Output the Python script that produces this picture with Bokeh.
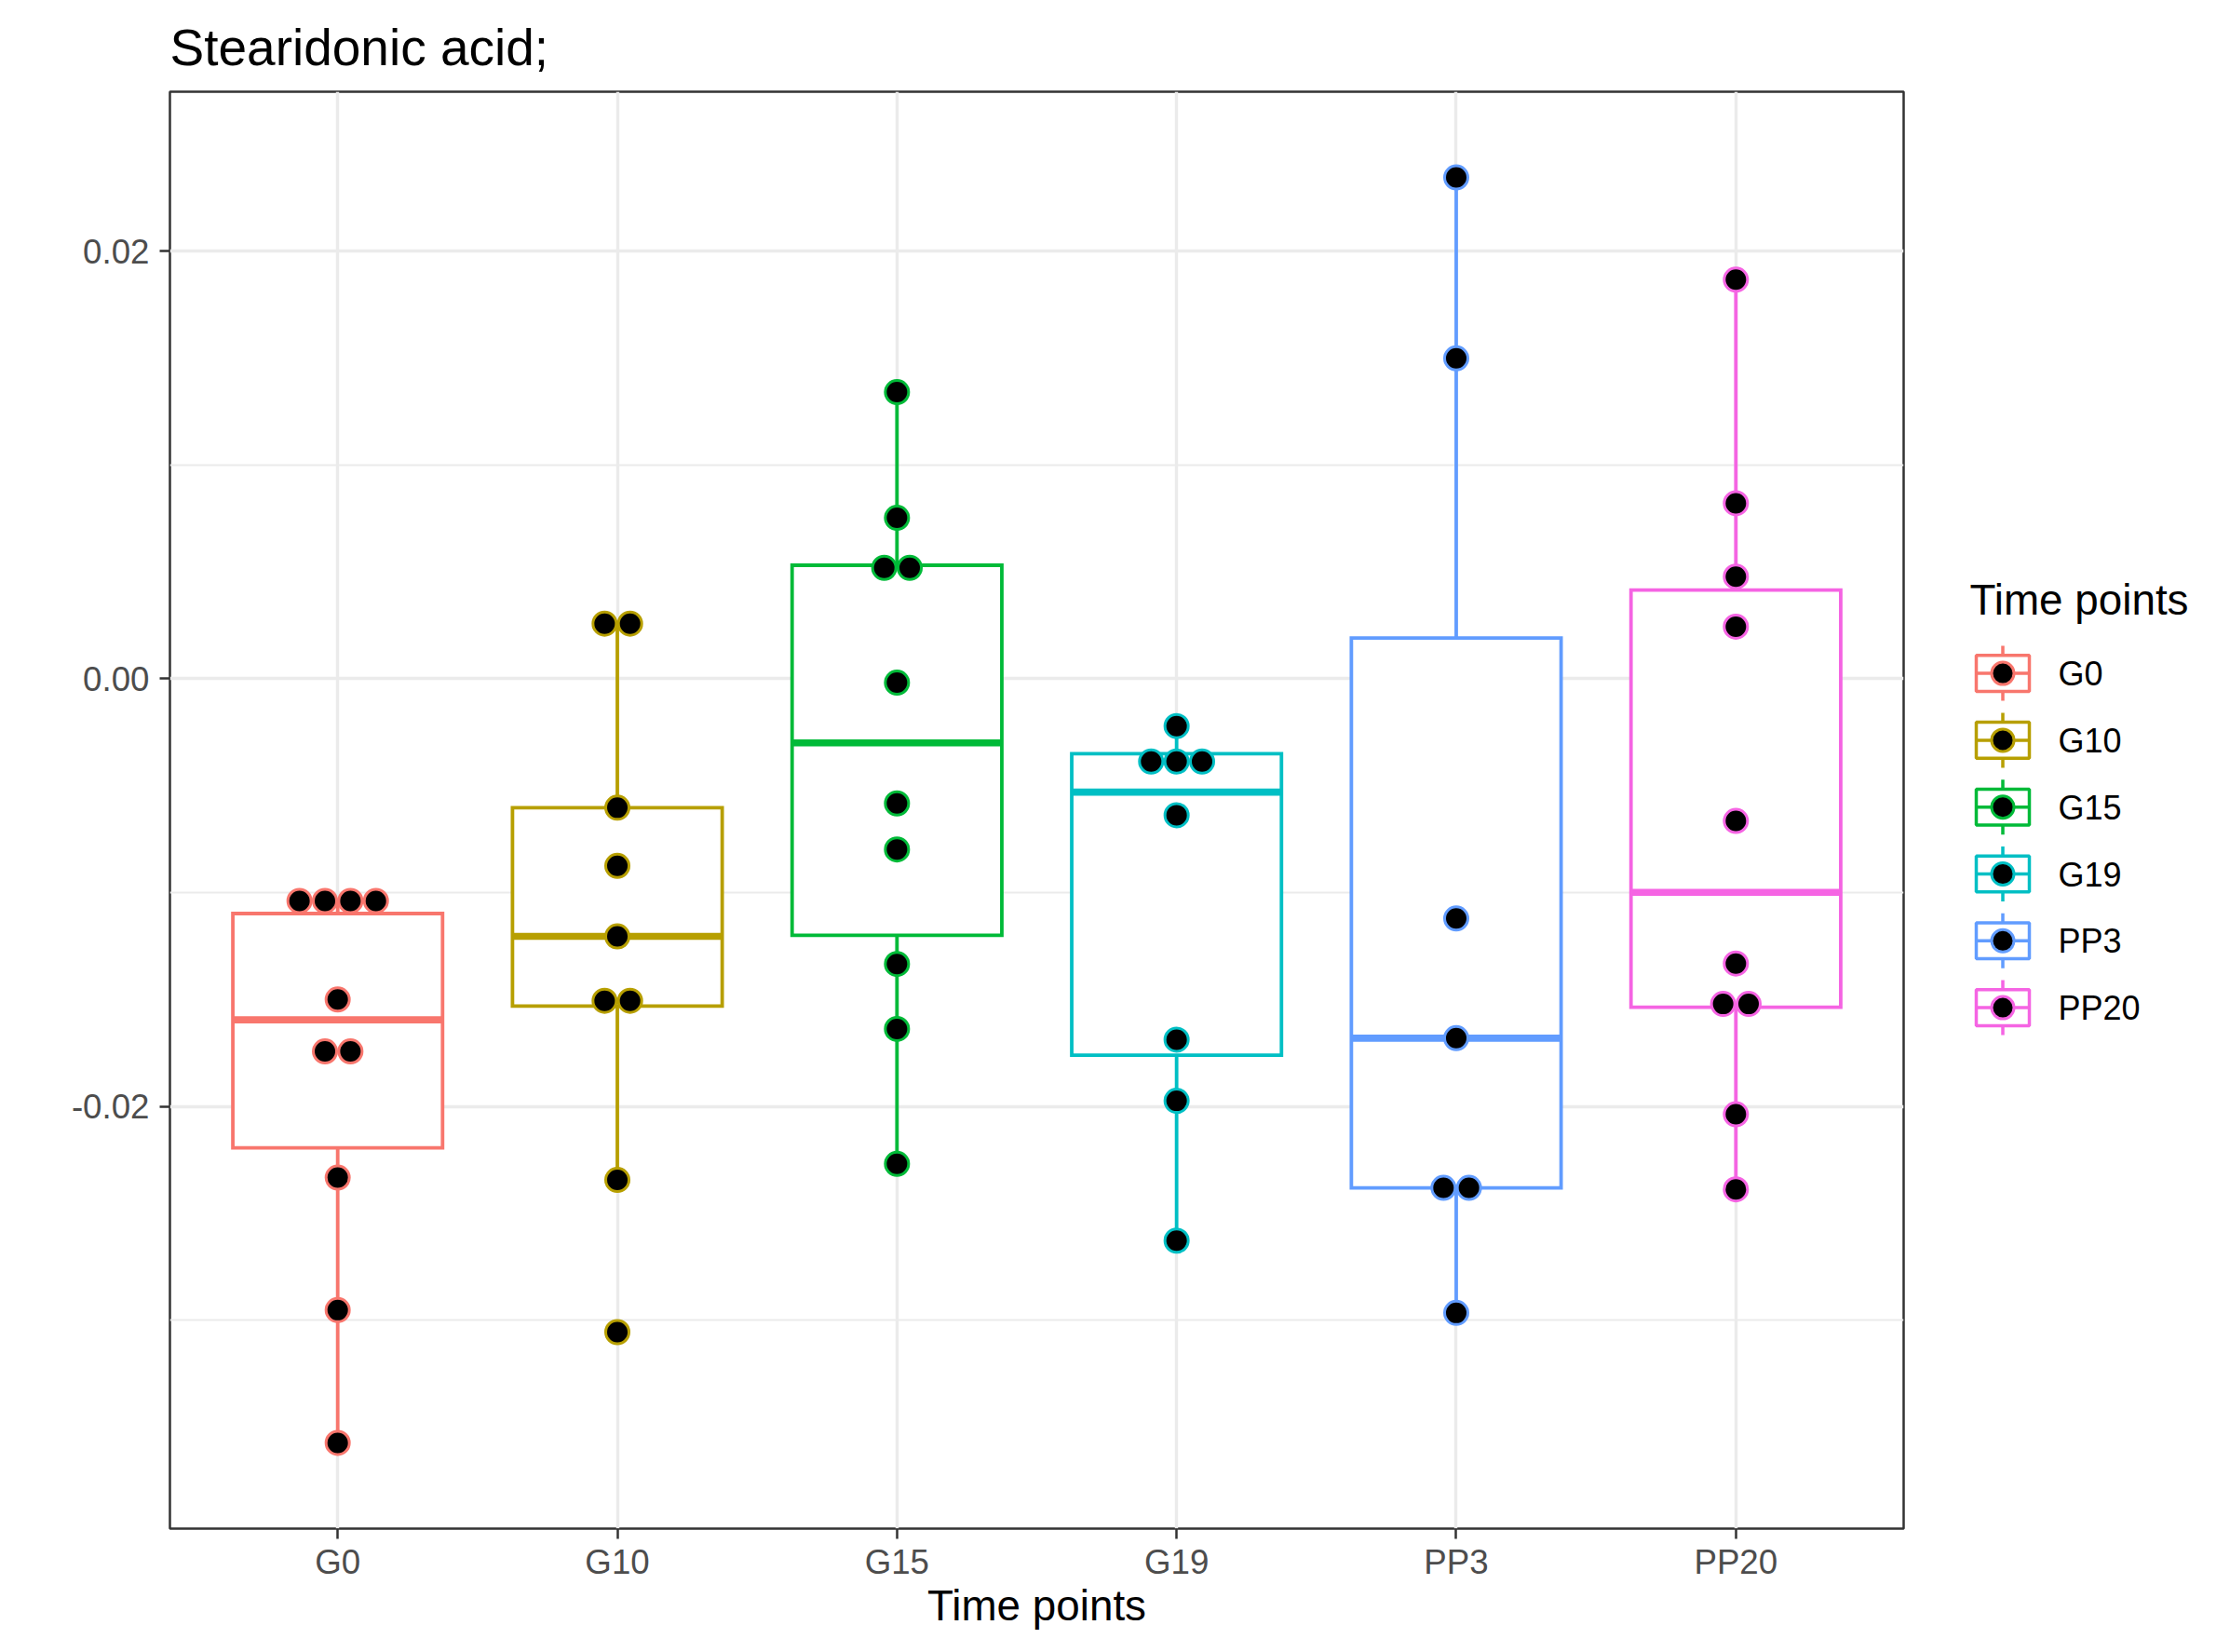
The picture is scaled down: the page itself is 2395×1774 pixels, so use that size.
import numpy as np
from bokeh.plotting import figure
from bokeh.models import Range1d, FixedTicker, PrintfTickFormatter, ColumnDataSource
from bokeh.layouts import row
from bokeh.embed import file_html
from bokeh.resources import INLINE
from bokeh.core.properties import value

# ---------------- data ----------------
categories = ["G0", "G10", "G15", "G19", "PP3", "PP20"]
colors = ["#F8766D", "#B79F00", "#00BA38", "#00BFC4", "#619CFF", "#F564E3"]

lower_whisker = [-0.03574, -0.02344, -0.02269, -0.02628, -0.02966, -0.02388]
q1 = [-0.02194, -0.01531, -0.01200, -0.01761, -0.02381, -0.01536]
median = [-0.01595, -0.01205, -0.00300, -0.00530, -0.01681, -0.00999]
q3 = [-0.01098, -0.00603, 0.00531, -0.00350, 0.00191, 0.00415]
upper_whisker = [-0.01039, 0.00258, 0.01341, -0.00221, 0.02345, 0.01867]

g0_points = [-0.01039, -0.01039, -0.01039, -0.01039, -0.01500, -0.01743, -0.01743, -0.02333, -0.02953, -0.03574]
g10_points = [0.00258, 0.00258, -0.00603, -0.00875, -0.01205, -0.01506, -0.01506, -0.02344, -0.03056]
g15_points = [0.01341, 0.00753, 0.00519, 0.00519, -0.00018, -0.00583, -0.00798, -0.01334, -0.01638, -0.02269]
g19_points = [-0.00221, -0.00387, -0.00387, -0.00387, -0.00638, -0.01688, -0.01974, -0.02628]
pp3_points = [0.02345, 0.01499, -0.01121, -0.01681, -0.02381, -0.02381, -0.02966]
pp20_points = [0.01867, 0.00821, 0.00478, 0.00244, -0.00665, -0.01332, -0.01521, -0.01521, -0.02037, -0.02388]
group_points = [g0_points, g10_points, g15_points, g19_points, pp3_points, pp20_points]

y_major_ticks = [-0.02, 0.0, 0.02]
y_minor_ticks = [-0.03, -0.01, 0.01]

title_text = "Stearidonic acid;"
x_title = "Time points"
legend_title = "Time points"

# ---------------- styles / layout ----------------
FONT = "Liberation Sans"
BOX_W = 0.75
DOT_STEP = 0.0911
LINE_W = 3.8
MED_W = 7.6
GRID = "#EBEBEB"
DARK = "#333333"
FIG_H = 1758
BORDER_TOP = 98
BORDER_BOTTOM = 117
MAIN_W = 2064

xpos = list(range(1, len(categories) + 1))

p = figure(width=MAIN_W, height=FIG_H,
           x_range=Range1d(0.4, 6.6), y_range=Range1d(-0.03975, 0.02746),
           output_backend="svg", toolbar_location=None,
           min_border_left=182, min_border_right=20,
           min_border_top=BORDER_TOP, min_border_bottom=BORDER_BOTTOM,
           title=title_text)
p.background_fill_color = "white"
p.border_fill_color = "white"
p.outline_line_color = DARK
p.outline_line_width = 2.5

p.title.text_font = FONT
p.title.text_font_size = "55px"
p.title.text_font_style = "normal"
p.title.text_color = "black"
p.title.align = "left"
p.title.standoff = 33

# axes
xt = FixedTicker(ticks=xpos)
p.xaxis.ticker = xt
p.xaxis.major_label_overrides = {x: c for x, c in zip(xpos, categories)}
p.xgrid.ticker = xt
yt = FixedTicker(ticks=y_major_ticks, minor_ticks=y_minor_ticks)
p.yaxis.ticker = yt
p.ygrid.ticker = yt
p.yaxis.formatter = PrintfTickFormatter(format="%.2f")

for ax in (p.xaxis, p.yaxis):
    ax.axis_line_color = None
    ax.major_tick_line_color = DARK
    ax.major_tick_line_width = 2.5
    ax.major_tick_out = 11
    ax.major_tick_in = 0
    ax.minor_tick_line_color = None
    ax.major_label_text_font = FONT
    ax.major_label_text_font_size = "36.7px"
    ax.major_label_text_color = "#4D4D4D"
p.xaxis.major_label_standoff = 4
p.yaxis.major_label_standoff = 11
p.xaxis.axis_label = x_title
p.xaxis.axis_label_text_font = FONT
p.xaxis.axis_label_text_font_size = "45.8px"
p.xaxis.axis_label_text_font_style = "normal"
p.xaxis.axis_label_text_color = "black"
p.xaxis.axis_label_standoff = -2

p.xgrid.grid_line_color = GRID
p.xgrid.grid_line_width = 3.4
p.ygrid.grid_line_color = GRID
p.ygrid.grid_line_width = 3.4
p.ygrid.minor_grid_line_color = GRID
p.ygrid.minor_grid_line_width = 1.8

# boxplots
src = ColumnDataSource(dict(x=xpos, left=[x - BOX_W / 2 for x in xpos], right=[x + BOX_W / 2 for x in xpos],
                            lw=lower_whisker, q1=q1, med=median, q3=q3, uw=upper_whisker, color=colors))
p.segment(x0="x", y0="q3", x1="x", y1="uw", source=src, line_color="color", line_width=LINE_W)
p.segment(x0="x", y0="q1", x1="x", y1="lw", source=src, line_color="color", line_width=LINE_W)
p.quad(left="left", right="right", bottom="q1", top="q3", source=src,
       fill_color="white", line_color="color", line_width=LINE_W, line_join="miter")
p.segment(x0="left", y0="med", x1="right", y1="med", source=src, line_color="color", line_width=MED_W,
          line_cap="butt")

# dot plot (centered stacking of equal values)
dx, dy, dc = [], [], []
for x, pts, col in zip(xpos, group_points, colors):
    uniq = []
    for v in pts:
        if v not in uniq:
            uniq.append(v)
    for v in uniq:
        k = pts.count(v)
        for j in range(k):
            dx.append(x + (j - (k - 1) / 2) * DOT_STEP)
            dy.append(v)
            dc.append(col)
p.scatter(x=dx, y=dy, size=25, fill_color="black", line_color=dc, line_width=3)

# ---------------- legend panel (page-pixel coordinates) ----------------
LX0, LX1 = MAIN_W, 2387
leg = figure(width=LX1 - LX0, height=FIG_H,
             x_range=Range1d(LX0, LX1), y_range=Range1d(FIG_H - BORDER_BOTTOM, BORDER_TOP),
             output_backend="svg", toolbar_location=None, x_axis_type=None, y_axis_type=None,
             min_border_left=0, min_border_right=0,
             min_border_top=BORDER_TOP, min_border_bottom=BORDER_BOTTOM)
leg.outline_line_color = None
leg.background_fill_color = "white"
leg.border_fill_color = "white"

key_cx = 2150.5
key_y0 = 722.6
key_step = 71.8
key_w = 57
key_h = 38.6
whisk = 29.5
ky = [key_y0 + i * key_step for i in range(len(categories))]
lsrc = ColumnDataSource(dict(cx=[key_cx] * len(ky), cy=ky,
                             top=[y - whisk for y in ky], bot=[y + whisk for y in ky],
                             bt=[y - key_h / 2 for y in ky], bb=[y + key_h / 2 for y in ky],
                             l=[key_cx - key_w / 2] * len(ky), r=[key_cx + key_w / 2] * len(ky),
                             color=colors, label=categories,
                             lx=[2210] * len(ky), ly=[y + 0.5 for y in ky]))
leg.segment(x0="cx", y0="top", x1="cx", y1="bot", source=lsrc, line_color="color", line_width=3.5)
leg.quad(left="l", right="r", top="bt", bottom="bb", source=lsrc, fill_color="white",
         line_color="color", line_width=3.5)
leg.segment(x0="l", y0="cy", x1="r", y1="cy", source=lsrc, line_color="color", line_width=3.5)
leg.scatter(x="cx", y="cy", source=lsrc, size=24, fill_color="black", line_color="color", line_width=3)
leg.text(x="lx", y="ly", text="label", source=lsrc, text_font=value(FONT), text_font_size="36px",
         text_baseline="alphabetic", text_align="left", text_color="black")
leg.text(x=[2115], y=[644], text=[legend_title], text_font=value(FONT), text_font_size="45.8px",
         text_baseline="alphabetic", text_align="left", text_color="black")

layout = row(p, leg)
open("out.html", "w").write(file_html(layout, INLINE))
